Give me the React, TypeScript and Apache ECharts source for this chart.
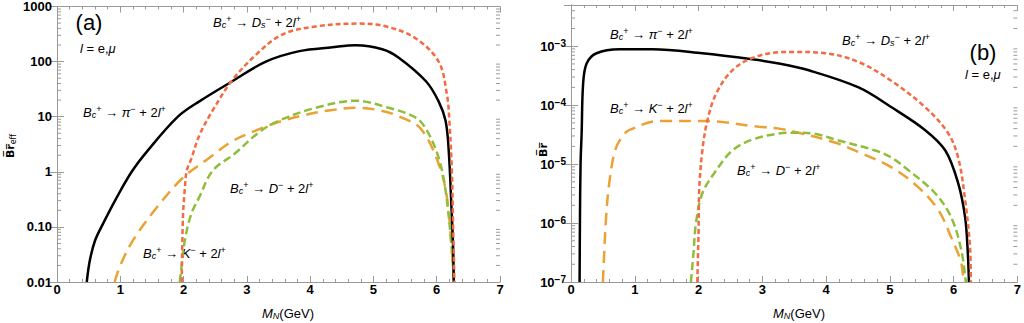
import React, { useEffect, useRef } from "react";
import * as echarts from "echarts";

// ---------- data ----------
const xTickValues = [0, 1, 2, 3, 4, 5, 6, 7];
const leftTickLabels = ["0.01", "0.10", "1", "10", "100", "1000"];

// panel (a): Br_eff
const leftPiX = [0.47, 0.52, 0.6, 0.72, 0.93, 1.18, 1.43, 1.91, 2.25, 2.77, 3.3, 3.83, 4.35, 4.72, 5.14, 5.4, 5.83, 6.03, 6.14, 6.19, 6.235, 6.26, 6.27];
const leftPiY = [0.01, 0.025, 0.056, 0.11, 0.32, 1, 2.4, 10, 19, 44, 100, 155, 182, 198, 168, 118, 44, 19, 8.4, 2.4, 0.2, 0.04, 0.01];

const leftDsX = [1.97, 1.99, 2.02, 2.05, 2.12, 2.25, 2.46, 2.77, 3.15, 3.56, 4.09, 4.77, 5.2, 5.67, 6.03, 6.16, 6.2, 6.24, 6.26, 6.28];
const leftDsY = [0.01, 0.15, 0.5, 1.05, 1.7, 4.6, 13, 46, 135, 310, 435, 490, 435, 263, 100, 26, 8.4, 1, 0.1, 0.01];

const leftDX = [1.94, 1.97, 2.02, 2.12, 2.25, 2.46, 2.8, 3.2, 3.51, 4.09, 4.72, 5.24, 5.67, 5.85, 6.03, 6.14, 6.24, 6.27];
const leftDY = [0.01, 0.02, 0.057, 0.17, 0.35, 1.05, 2.1, 5.3, 8.5, 14.5, 19.5, 14.5, 9.6, 5.5, 1.8, 0.46, 0.038, 0.01];

const leftKX = [0.91, 1.0, 1.2, 1.57, 1.99, 2.41, 2.77, 3.09, 3.5, 3.83, 4.3, 4.77, 5.1, 5.4, 5.75, 6.03, 6.16, 6.24, 6.27];
const leftKY = [0.01, 0.02, 0.057, 0.22, 0.78, 1.8, 3.6, 5.3, 8, 10.2, 13, 14.5, 13, 10.2, 6, 1.4, 0.35, 0.035, 0.01];

// panel (b): Br
const rightPiX = [0.135, 0.14, 0.15, 0.167, 0.19, 0.245, 0.4, 0.76, 1.28, 2.06, 2.84, 3.26, 3.73, 4.51, 5.02, 5.55, 5.87, 6.07, 6.18, 6.22, 6.24];
const rightPiY = [1e-7, 1e-6, 1e-5, 3.4e-5, 2.3e-4, 5.1e-4, 7.6e-4, 8.9e-4, 8.9e-4, 7.6e-4, 6.0e-4, 5.1e-4, 3.9e-4, 2.0e-4, 9.3e-5, 3.8e-5, 1.7e-5, 4.8e-6, 1.26e-6, 3.5e-7, 1e-7];

const rightDsX = [1.98, 2.0, 2.01, 2.06, 2.14, 2.28, 2.53, 2.84, 3.26, 3.5, 3.99, 4.51, 5.02, 5.55, 5.91, 6.07, 6.18, 6.26, 6.27];
const rightDsY = [1e-7, 6.8e-7, 3.6e-6, 1.7e-5, 5.6e-5, 1.6e-4, 3.9e-4, 6.3e-4, 7.9e-4, 8.0e-4, 7.6e-4, 5.4e-4, 2.6e-4, 9.3e-5, 3.4e-5, 1.3e-5, 2.5e-6, 3.5e-7, 1e-7];

const rightKX = [0.5, 0.52, 0.55, 0.6, 0.69, 0.8, 0.92, 1.39, 2.06, 2.95, 3.26, 3.57, 4.15, 4.51, 5.02, 5.44, 5.76, 5.96, 6.12, 6.15];
const rightKY = [1e-7, 3e-7, 1.26e-6, 4.8e-6, 1.7e-5, 2.9e-5, 3.8e-5, 5.4e-5, 5.4e-5, 4.3e-5, 4.0e-5, 3.4e-5, 2.3e-5, 1.6e-5, 8.9e-6, 4.1e-6, 1.66e-6, 5.8e-7, 2.1e-7, 1e-7];

const rightDX = [1.88, 1.92, 1.96, 2.06, 2.28, 2.53, 2.84, 3.26, 3.5, 3.8, 4.15, 4.77, 5.02, 5.29, 5.71, 5.96, 6.12, 6.19];
const rightDY = [1e-7, 3e-7, 1e-6, 3.2e-6, 7.9e-6, 1.7e-5, 2.6e-5, 3.3e-5, 3.4e-5, 3.3e-5, 2.6e-5, 1.7e-5, 1.3e-5, 7.9e-6, 3.2e-6, 1.26e-6, 3.5e-7, 1e-7];

// ---------- styling ----------
const FONT = "Liberation Sans";
const FRAME = "#9a9a9a";
const BLACK = "#000000";
const RED = "#f26b43";
const GREEN = "#8fbf3a";
const ORANGE = "#eba235";

const pairs = (xs: number[], ys: number[]) => xs.map((x, i) => [x, ys[i]]);

function logMinors(lo: number, hi: number, maxV: number) {
  const out: number[] = [];
  for (let k = lo; k <= hi; k++) {
    for (let m = 2; m <= 9; m++) {
      const v = m * Math.pow(10, k);
      if (v < maxV) out.push(v);
    }
  }
  return out;
}

const richText = {
  i: { fontFamily: FONT, fontStyle: "italic", fontSize: 13, lineHeight: 15, fill: "#000" },
  n: { fontFamily: FONT, fontSize: 13, lineHeight: 15, fill: "#000" },
  a: { fontFamily: FONT, fontSize: 13, fontWeight: "bold", lineHeight: 15, fill: "#000" },
  sub: { fontFamily: FONT, fontStyle: "italic", fontSize: 9, lineHeight: 9, verticalAlign: "bottom", fill: "#000" },
  sup: { fontFamily: FONT, fontSize: 9, lineHeight: 9, verticalAlign: "top", fill: "#000" },
};

const decay = (meson: string, sub?: string) =>
  "{i|B}{sub|c}{sup|+}{a| → }{i|" + meson + "}" + (sub ? "{sub|" + sub + "}" : "") + "{sup|−}{n| + 2}{i|l}{sup|+}";

function textEl(x: number, y: number, text: string) {
  return {
    type: "text",
    x,
    y,
    silent: true,
    style: { text, rich: richText, textAlign: "left", textVerticalAlign: "middle" },
  };
}

function xAxes(gridIndex: number) {
  const base = {
    gridIndex,
    type: "value",
    min: 0,
    max: 7,
    interval: 1,
    splitLine: { show: false },
    axisLine: { onZero: false, lineStyle: { color: FRAME, width: 1 } },
    axisTick: { inside: true, length: 6, lineStyle: { color: FRAME } },
    minorTick: { show: true, splitNumber: 5, length: 3, lineStyle: { color: FRAME } },
  };
  return [
    {
      ...base,
      position: "bottom",
      axisLabel: {
        margin: 1,
        fontFamily: FONT,
        fontSize: 13,
        fontWeight: "bold",
        color: "#000",
        formatter: (v: number) => (xTickValues.includes(Math.round(v)) ? String(Math.round(v)) : ""),
      },
    },
    { ...base, position: "top", axisLabel: { show: false } },
  ];
}

function yAxes(gridIndex: number, min: number, max: number, formatter: any, rich?: any) {
  const base = {
    gridIndex,
    type: "log",
    logBase: 10,
    min,
    max,
    splitLine: { show: false },
    axisLine: { lineStyle: { color: FRAME, width: 1 } },
    axisTick: { inside: true, length: 7, lineStyle: { color: FRAME } },
    minorTick: { show: false },
  };
  return [
    {
      ...base,
      position: "left",
      axisLabel: {
        margin: 5,
        fontFamily: FONT,
        fontSize: 13,
        fontWeight: "bold",
        color: "#000",
        showMaxLabel: true,
        formatter,
        rich,
      },
    },
    { ...base, position: "right", axisLabel: { show: false } },
  ];
}

function line(name: string, xi: number, yi: number, data: number[][], color: string, type: any, width = 2.5) {
  return {
    name,
    type: "line",
    xAxisIndex: xi,
    yAxisIndex: yi,
    data,
    showSymbol: false,
    symbol: "none",
    smooth: 0.35,
    clip: true,
    lineStyle: { color, width, type, cap: "butt" },
    z: 5,
  };
}

function minorTickSeries(xi: number, yi: number, values: number[]) {
  return {
    type: "custom",
    xAxisIndex: xi,
    yAxisIndex: yi,
    silent: true,
    z: 1,
    data: values.map((v) => [0, v]),
    renderItem: (params: any, api: any) => {
      const v = api.value(1);
      const p0 = api.coord([0, v]);
      const p1 = api.coord([7, v]);
      return {
        type: "group",
        children: [
          { type: "line", shape: { x1: p0[0], y1: p0[1], x2: p0[0] + 4, y2: p0[1] }, style: { stroke: FRAME, lineWidth: 1 } },
          { type: "line", shape: { x1: p1[0] - 4, y1: p1[1], x2: p1[0], y2: p1[1] }, style: { stroke: FRAME, lineWidth: 1 } },
        ],
      };
    },
  };
}

export default function App() {
  const ref = useRef<HTMLDivElement>(null);

  useEffect(() => {
    if (!ref.current) return;
    const chart = echarts.init(ref.current, null, { renderer: "svg" });

    const leftFormatter = (v: number) => {
      const k = Math.round(Math.log10(v));
      if (Math.abs(Math.log10(v) - k) > 1e-6) return "";
      const idx = k + 2;
      return leftTickLabels[idx] ?? "";
    };
    const rightFormatter = (v: number) => {
      const k = Math.round(Math.log10(v));
      if (Math.abs(Math.log10(v) - k) > 1e-6) return "";
      return "{b|10}{s|−" + Math.abs(k) + "}";
    };
    const rightRich = {
      b: { fontFamily: FONT, fontSize: 13, fontWeight: "bold", color: "#000", lineHeight: 16 },
      s: { fontFamily: FONT, fontSize: 10, fontWeight: "bold", color: "#000", lineHeight: 10, verticalAlign: "top" },
    };

    const option: any = {
      animation: false,
      backgroundColor: "#ffffff",
      grid: [
        { left: 57, top: 5, width: 443, height: 277 },
        { left: 571, top: 5, width: 449, height: 277 },
      ],
      xAxis: [...xAxes(0), ...xAxes(1)],
      yAxis: [
        ...yAxes(0, 0.01, 1000, leftFormatter),
        ...yAxes(1, 1e-7, 5e-3, rightFormatter, rightRich),
      ],
      series: [
        minorTickSeries(0, 0, logMinors(-2, 2, 1000)),
        minorTickSeries(2, 2, logMinors(-7, -3, 5e-3)),
        line("K a", 0, 0, pairs(leftKX, leftKY), ORANGE, [12, 7]),
        line("D a", 0, 0, pairs(leftDX, leftDY), GREEN, [8, 4]),
        line("pi a", 0, 0, pairs(leftPiX, leftPiY), BLACK, "solid"),
        line("Ds a", 0, 0, pairs(leftDsX, leftDsY), RED, [5, 3]),
        line("K b", 2, 2, pairs(rightKX, rightKY), ORANGE, [12, 7]),
        line("D b", 2, 2, pairs(rightDX, rightDY), GREEN, [8, 4]),
        line("pi b", 2, 2, pairs(rightPiX, rightPiY), BLACK, "solid"),
        line("Ds b", 2, 2, pairs(rightDsX, rightDsY), RED, [5, 3]),
      ],
      graphic: [
        // panel (a)
        { type: "text", x: 89, y: 22, silent: true, style: { text: "(a)", font: "22px '" + FONT + "'", fill: "#000", textAlign: "center", textVerticalAlign: "middle" } },
        textEl(80, 48, "{i|l}{n| = e,}{i|μ}"),
        textEl(213, 22, decay("D", "s")),
        textEl(83, 112, decay("π")),
        textEl(230, 188, decay("D")),
        textEl(143, 253, decay("K")),
        // panel (b)
        { type: "text", x: 983, y: 52, silent: true, style: { text: "(b)", font: "22px '" + FONT + "'", fill: "#000", textAlign: "center", textVerticalAlign: "middle" } },
        textEl(965, 74, "{i|l}{n| = e,}{i|μ}"),
        textEl(842, 40, decay("D", "s")),
        textEl(610, 34, decay("π")),
        textEl(610, 108, decay("K")),
        textEl(737, 170, decay("D")),
        // x-axis names
        textEl(262, 313, "{i|M}{sub|N}{n|(GeV)}"),
        textEl(773, 313, "{i|M}{sub|N}{n|(GeV)}"),
        // y-axis names
        {
          type: "text",
          x: 10,
          y: 146,
          rotation: Math.PI / 2,
          silent: true,
          style: {
            text: "{n|B\u0305r\u0305}{sub|eff}",
            rich: {
              n: { fontFamily: "DejaVu Sans", fontSize: 11, fontWeight: "bold", fill: "#000", lineHeight: 14 },
              sub: { fontFamily: "DejaVu Sans", fontSize: 8, fill: "#000", lineHeight: 10, verticalAlign: "bottom" },
            },
            textAlign: "center",
            textVerticalAlign: "middle",
          },
        },
        {
          type: "text",
          x: 543,
          y: 150,
          rotation: Math.PI / 2,
          silent: true,
          style: {
            text: "B\u0305r\u0305",
            font: "bold 11px 'DejaVu Sans'",
            fill: "#000",
            textAlign: "center",
            textVerticalAlign: "middle",
          },
        },
      ],
    };

    chart.setOption(option);
    return () => chart.dispose();
  }, []);

  return (
    <div
      ref={ref}
      style={{ position: "fixed", left: 0, top: 0, width: 1024, height: 323, background: "#fff" }}
    />
  );
}
